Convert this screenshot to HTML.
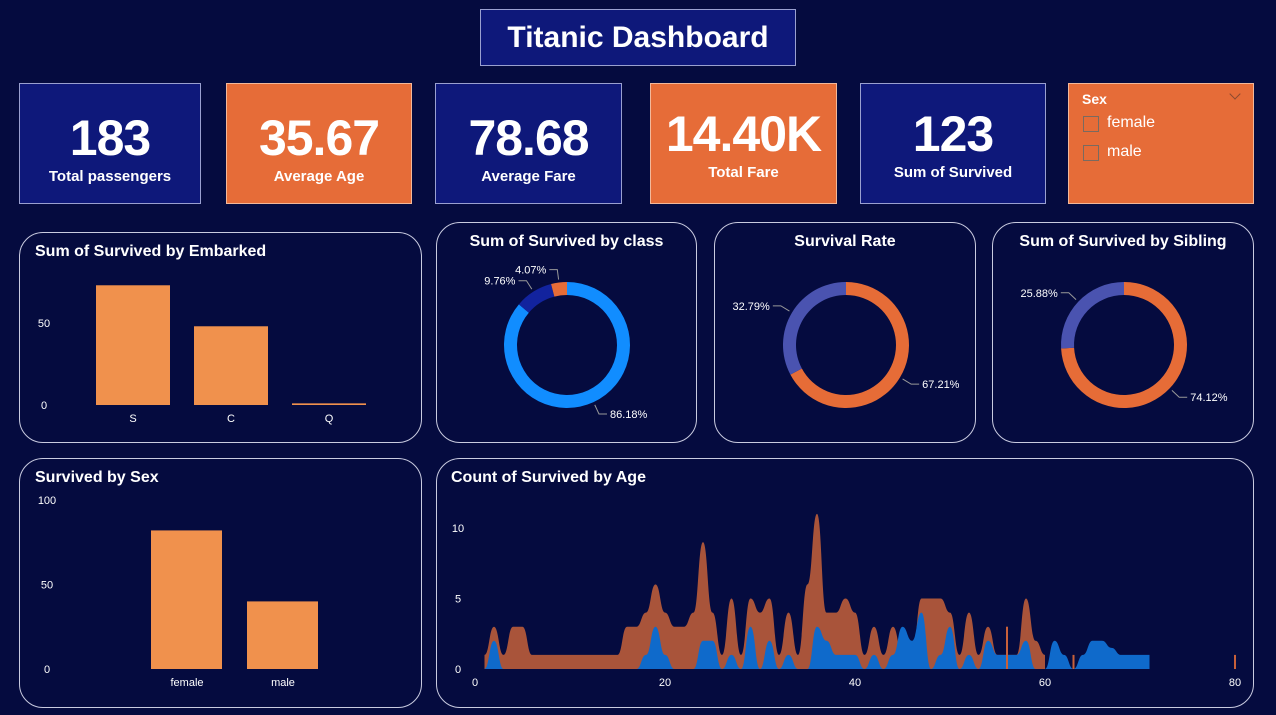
<!DOCTYPE html>
<html><head><meta charset="utf-8">
<style>
body{margin:0;width:1276px;height:715px;background:#050b3f;font-family:"Liberation Sans",sans-serif;color:#fff;overflow:hidden;position:relative}
.abs{position:absolute}
.card{position:absolute;top:83px;height:121px;box-sizing:border-box;border:1px solid #9aa0d0;text-align:center}
.blue{background:#0e187a}.orange{background:#e66c38;border-color:#f3b89a}
.big{font-size:50px;font-weight:bold;margin-top:26px;line-height:56px;letter-spacing:-1px}
.lbl{font-size:15px;font-weight:bold;margin-top:2px}
.panel{position:absolute;border:1px solid #c9cbe0;border-radius:24px;box-sizing:border-box}
.pt{position:absolute;font-size:16px;font-weight:bold}
svg text{font-family:"Liberation Sans",sans-serif;fill:#fff}
</style></head><body>
<div class="abs" style="left:480px;top:9px;width:316px;height:57px;box-sizing:border-box;background:#0e187a;border:1px solid #9aa0d0;font-size:30px;font-weight:bold;text-align:center;line-height:55px">Titanic Dashboard</div>

<div class="card blue" style="left:19px;width:182px"><div class="big">183</div><div class="lbl">Total passengers</div></div>
<div class="card orange" style="left:226px;width:186px"><div class="big">35.67</div><div class="lbl">Average Age</div></div>
<div class="card blue" style="left:435px;width:187px"><div class="big">78.68</div><div class="lbl">Average Fare</div></div>
<div class="card orange" style="left:650px;width:187px"><div class="big" style="margin-top:22px">14.40K</div><div class="lbl">Total Fare</div></div>
<div class="card blue" style="left:860px;width:186px"><div class="big" style="margin-top:22px">123</div><div class="lbl">Sum of Survived</div></div>
<div class="card orange" style="left:1068px;width:186px;text-align:left">
 <div style="position:absolute;left:13px;top:7px;font-size:14px;font-weight:bold">Sex</div>
 <div style="position:absolute;left:162px;top:6px;width:7px;height:7px;border-right:1px solid #8a4a30;border-bottom:1px solid #8a4a30;transform:rotate(45deg)"></div>
 <div style="position:absolute;left:14px;top:32px;width:14px;height:14px;border:1px solid #7a6a60"></div>
 <div style="position:absolute;left:38px;top:30px;font-size:16px">female</div>
 <div style="position:absolute;left:14px;top:61px;width:14px;height:14px;border:1px solid #7a6a60"></div>
 <div style="position:absolute;left:38px;top:59px;font-size:16px">male</div>
</div>

<div class="panel" style="left:19px;top:232px;width:403px;height:211px"><div class="pt" style="left:15px;top:10px">Sum of Survived by Embarked</div></div>
<div class="panel" style="left:436px;top:222px;width:261px;height:221px"><div class="pt" style="left:0;width:100%;text-align:center;top:10px">Sum of Survived by class</div></div>
<div class="panel" style="left:714px;top:222px;width:262px;height:221px"><div class="pt" style="left:0;width:100%;text-align:center;top:10px">Survival Rate</div></div>
<div class="panel" style="left:992px;top:222px;width:262px;height:221px"><div class="pt" style="left:0;width:100%;text-align:center;top:10px">Sum of Survived by Sibling</div></div>
<div class="panel" style="left:19px;top:458px;width:403px;height:250px"><div class="pt" style="left:15px;top:10px">Survived by Sex</div></div>
<div class="panel" style="left:436px;top:458px;width:818px;height:250px"><div class="pt" style="left:14px;top:10px">Count of Survived by Age</div></div>

<svg id="svg" class="abs" style="left:0;top:0" width="1276" height="715"></svg>

<script>
const embCats=["S","C","Q"];
const embVals=[73,48,1];
const sexCats=["female","male"];
const sexVals=[82,40];
const classVals=[86.18,9.76,4.07];
const classLabels=["86.18%","9.76%","4.07%"];
const rateVals=[67.21,32.79];
const rateLabels=["67.21%","32.79%"];
const sibVals=[74.12,25.88];
const sibLabels=["74.12%","25.88%"];
const ageTicks=[0,20,40,60,80];
const countTicks=[0,5,10];
const orangeAges=[1,2,3,4,5,6,10,15,16,17,18,19,20,21,22,23,24,25,26,27,28,29,30,31,32,33,34,35,36,37,38,39,40,41,42,43,44,45,46,47,48,49,50,51,52,53,54,55,56,57,58,59,60];
const orangeVals=[1,3,1,3,3,1,1,1,3,3,4,6,4,3,3,4,9,4,1,5,1,5,4,5,1,4,1,6,11,4,4,5,4,1,3,1,3,1,1,5,5,5,4,1,4,1,3,1,1,1,5,2,1];
const blueAges=[1,2,3,17,18,19,20,21,23,24,25,26,27,28,29,30,31,32,33,34,35,36,37,38,39,40,41,42,43,44,45,46,47,48,49,50,51,52,53,54,55,56,57,58,59,60,61,62,63,64,65,66,67,68,69,70,71];
const blueVals=[0,2,0,0,1,3,1,0,0,2,2,0,1,0,3,0,2,0,1,0,0,3,2,1,1,1,0,1,0,1,3,2,4,0,1,3,0,1,0,2,1,1,1,2,0,0,2,1,0,1,2,2,1.5,1,1,1,1];
const spikesO=[[56,3],[63,1],[80,1]];

const svg=document.getElementById('svg');
const NS='http://www.w3.org/2000/svg';
function mk(tag,attrs,name){const e=document.createElementNS(NS,tag);for(const k in attrs)e.setAttribute(k,attrs[k]);


svg.appendChild(e);return e;}
function txt(x,y,s,size,anchor,name){const t=mk('text',{x:x,y:y,'font-size':size,'text-anchor':anchor||'middle'},name);t.textContent=s;return t;}

const ey=v=>405-v*1.64;
txt(44,409,"0",11,"middle","embarked-y-tick");txt(44,327,"50",11,"middle","embarked-y-tick");
embCats.forEach((c,i)=>{const x=96+i*98;
 const h=Math.max(ey(0)-ey(embVals[i]),1);
 mk('rect',{x:x,y:ey(0)-h,width:74,height:h,fill:'#f0914d'},'bar-embarked-'+c);
 txt(x+37,422,c,11,"middle","embarked-x-label");});

const sy=v=>669-v*1.69;
[0,50,100].forEach(v=>txt(47,sy(v)+4,String(v),11,"middle","sex-y-tick"));
sexCats.forEach((c,i)=>{const x=151+i*96;
 mk('rect',{x:x,y:sy(sexVals[i]),width:71,height:sy(0)-sy(sexVals[i]),fill:'#f0914d'},'bar-'+c);
 txt(x+36,686,c,11,"middle","sex-x-label");});

function arc(cx,cy,r0,r1,a0,a1){const p=(r,a)=>[cx+r*Math.sin(a),cy-r*Math.cos(a)];
 const L=(a1-a0)>Math.PI?1:0;const A=p(r1,a0),B=p(r1,a1),C=p(r0,a1),D=p(r0,a0);
 return `M${A}A${r1},${r1} 0 ${L} 1 ${B}L${C}A${r0},${r0} 0 ${L} 0 ${D}Z`;}
function donut(cx,cy,vals,colors,labels,name){let a=0;const tot=vals.reduce((s,v)=>s+v,0);
 vals.forEach((v,i)=>{const a1=a+v/tot*2*Math.PI;
  mk('path',{d:arc(cx,cy,50,63,a,a1),fill:colors[i]},name+'-slice-'+i);
  const m=(a+a1)/2;const sx=Math.sin(m),cy2=-Math.cos(m);
  const p1=[cx+66*sx,cy+66*cy2],p2=[cx+76*sx,cy+76*cy2];const dir=sx>=0?1:-1;
  mk('polyline',{points:`${p1} ${p2} ${p2[0]+8*dir},${p2[1]}`,fill:'none',stroke:'#999',"stroke-width":1},name+'-leader');
  txt(p2[0]+11*dir,p2[1]+4,labels[i],11,dir>0?'start':'end',name+'-label');
  a=a1;});}
donut(567,345,classVals,['#118dff','#12239e','#e66c37'],classLabels,'class-donut');
donut(846,345,rateVals,['#e66c37','#4a53b0'],rateLabels,'rate-donut');
donut(1124,345,sibVals,['#e66c37','#4a53b0'],sibLabels,'sibling-donut');

const ax=a=>475+a*9.5, ay=v=>669-v*14.1;
countTicks.forEach(v=>txt(458,ay(v)+4,String(v),11,"middle","age-y-tick"));
ageTicks.forEach(v=>txt(ax(v),686,String(v),11,"middle","age-x-tick"));
function area(ages,vals,color,name){
 let d=`M${ax(ages[0])},${ay(0)}L${ax(ages[0])},${ay(vals[0])}`;
 for(let i=1;i<ages.length;i++){const x0=ax(ages[i-1]),x1=ax(ages[i]),y0=ay(vals[i-1]),y1=ay(vals[i]);
  const mx=(x0+x1)/2;d+=`C${mx},${y0} ${mx},${y1} ${x1},${y1}`;}
 d+=`L${ax(ages[ages.length-1])},${ay(0)}Z`;
 mk('path',{d:d,fill:color},name);}
area(orangeAges,orangeVals,'#a9543a','area-orange-series');
area(blueAges,blueVals,'#0f6acb','area-blue-series');
spikesO.forEach(s=>mk('rect',{x:ax(s[0])-1,y:ay(s[1]),width:2,height:ay(0)-ay(s[1]),fill:'#c8603a'},'orange-spike'));
</script>
</body></html>
